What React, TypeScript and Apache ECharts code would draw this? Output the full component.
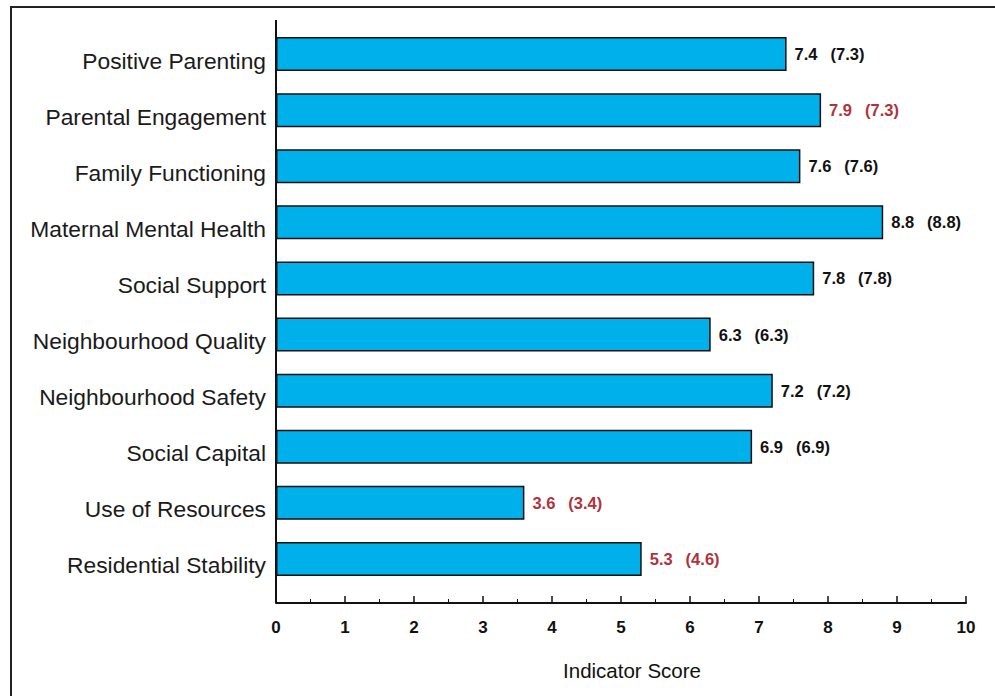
import React, { useEffect, useRef } from "react";
import * as echarts from "echarts";

const categories = [
  "Positive Parenting",
  "Parental Engagement",
  "Family Functioning",
  "Maternal Mental Health",
  "Social Support",
  "Neighbourhood Quality",
  "Neighbourhood Safety",
  "Social Capital",
  "Use of Resources",
  "Residential Stability",
];
const scores = [7.4, 7.9, 7.6, 8.8, 7.8, 6.3, 7.2, 6.9, 3.6, 5.3];
const priorScores = [7.3, 7.3, 7.6, 8.8, 7.8, 6.3, 7.2, 6.9, 3.4, 4.6];
const highlighted = [false, true, false, false, false, false, false, false, true, true];
const xTicks = [0, 1, 2, 3, 4, 5, 6, 7, 8, 9, 10];
const xAxisTitle = "Indicator Score";

const FONT = "'Liberation Sans', Arial, Helvetica, sans-serif";
const RED = "#B0333B";
const BLACK = "#111111";

export default function App() {
  const ref = useRef<HTMLDivElement>(null);
  useEffect(() => {
    if (!ref.current) return;
    const chart = echarts.init(ref.current, undefined, { renderer: "svg" });
    const data = scores.map((v, i) => ({
      value: v,
      label: {
        formatter: `{${highlighted[i] ? "r" : "k"}1|${v.toFixed(1)}}{${highlighted[i] ? "r" : "k"}2|(${priorScores[i].toFixed(1)})}`,
      },
    }));
    const valStyle = { fontFamily: FONT, fontWeight: "bold", fontSize: 16.5 };
    const catStyle = { fontFamily: FONT, fontSize: 22.8, color: "#1a1a1a" };
    chart.setOption({
      animation: false,
      backgroundColor: "#ffffff",
      grid: { left: 276, right: 29, top: 26, bottom: 109, containLabel: false },
      xAxis: {
        type: "value",
        min: xTicks[0],
        max: xTicks[xTicks.length - 1],
        interval: 1,
        offset: 16,
        axisLine: { show: true, lineStyle: { color: BLACK, width: 2 } },
        axisTick: { show: true, inside: true, length: 7, lineStyle: { color: BLACK, width: 1.5 } },
        minorTick: { show: true, splitNumber: 2, length: 4, lineStyle: { color: BLACK, width: 1 } },
        splitLine: { show: false },
        axisLabel: {
          margin: 16,
          fontFamily: FONT,
          fontWeight: "bold",
          fontSize: 17,
          color: BLACK,
        },
        name: xAxisTitle,
        nameLocation: "middle",
        nameGap: 57,
        nameTextStyle: { fontFamily: FONT, fontSize: 20.5, color: BLACK, padding: [0, 0, 0, 22] },
      },
      yAxis: {
        type: "category",
        data: categories,
        inverse: true,
        axisLine: { show: false },
        axisTick: { show: false },
        axisLabel: {
          margin: 10,
          ...catStyle,
          formatter: (v: string) => `{c|${v}}`,
          rich: { c: { ...catStyle, padding: [13, 0, 0, 0] } },
        },
      },
      graphic: [
        {
          type: "rect",
          shape: { x: 11, y: 7, width: 1000, height: 720 },
          style: { fill: "none", stroke: "#222222", lineWidth: 2 },
          silent: true,
          z: 10,
        },
        {
          type: "line",
          shape: { x1: 276, y1: 20, x2: 276, y2: 603 },
          style: { stroke: BLACK, lineWidth: 2 },
          silent: true,
          z: 10,
        },
      ],
      series: [
        {
          type: "bar",
          data,
          barWidth: 34,
          itemStyle: { color: "#00B0EB", borderColor: "#111111", borderWidth: 1.5 },
          label: {
            show: true,
            position: "right",
            distance: 8,
            ...valStyle,
            rich: {
              k1: { color: BLACK, ...valStyle },
              k2: { color: BLACK, ...valStyle, padding: [0, 0, 0, 13] },
              r1: { color: RED, ...valStyle },
              r2: { color: RED, ...valStyle, padding: [0, 0, 0, 13] },
            },
          },
        },
      ],
    });
    return () => chart.dispose();
  }, []);
  return (
    <div
      ref={ref}
      style={{ position: "fixed", left: 0, top: 0, width: 995, height: 696 }}
    />
  );
}
